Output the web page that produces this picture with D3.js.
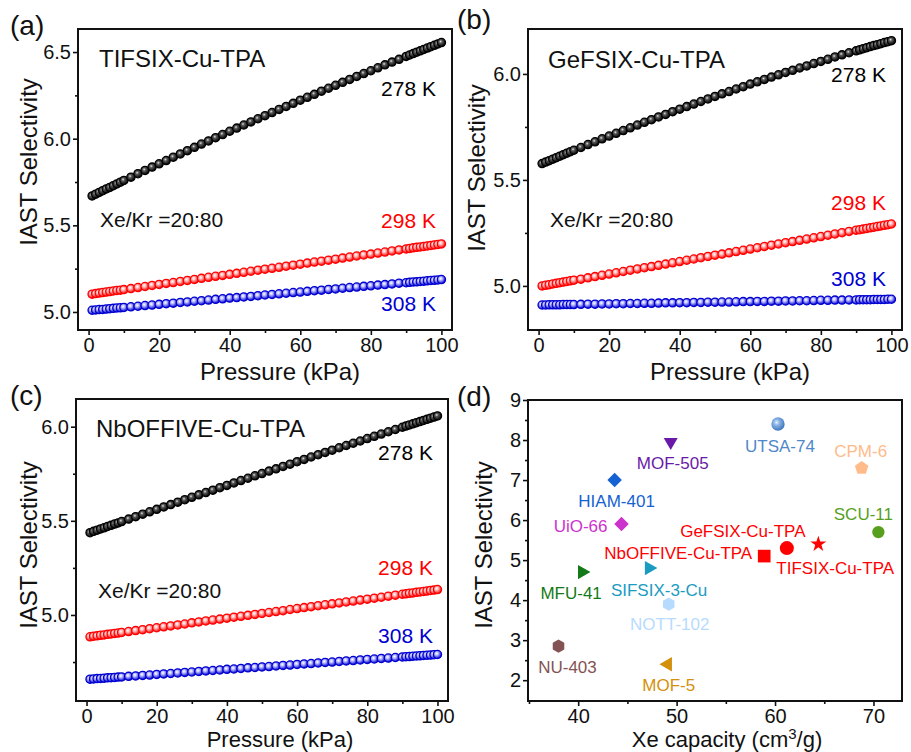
<!DOCTYPE html>
<html>
<head>
<meta charset="utf-8">
<title>IAST selectivity</title>
<style>
  body { margin: 0; background: #fff; }
  svg { display: block; font-family: Arial, 'Liberation Sans', sans-serif; }
  .tick text { font-size: 20px; fill: #111; }
  .tick line { stroke: #111; stroke-width: 1.6px; }
  .domain { display: none; }
  .frame { fill: none; stroke: #111; stroke-width: 2px; }
  .axis-title { font-size: 24px; fill: #111; }
  .axis-title.low { font-size: 22px; }
  .panel-tag { font-size: 28px; fill: #111; }
  .panel-name { font-size: 24px; fill: #111; }
  .note { font-size: 21px; fill: #111; }
  .temp { font-size: 21px; }
  .mat-label { font-size: 17px; }
</style>
</head>
<body>
<svg width="911" height="752"></svg>
<script src="https://d3js.org/d3.v7.min.js"></script>
<script>

// pressure points (kPa), same for every isotherm
let pressure = [1, 2, 3, 4, 5, 6, 7, 8, 9, 10,
  12, 14, 16, 18, 20, 22, 24, 26, 28, 30, 32, 34, 36, 38, 40, 42, 44, 46, 48, 50,
  52, 54, 56, 58, 60, 62, 64, 66, 68, 70, 72, 74, 76, 78, 80, 82, 84, 86, 88,
  90, 91, 92, 93, 94, 95, 96, 97, 98, 99, 100];

// (a) TIFSIX-Cu-TPA
let tifsix278 = [5.670, 5.680, 5.690, 5.700, 5.710, 5.719, 5.729, 5.739, 5.749, 5.759,
  5.778, 5.798, 5.817, 5.836, 5.855, 5.874, 5.893, 5.912, 5.931, 5.950, 5.969, 5.987, 6.006, 6.024, 6.043, 6.061, 6.079, 6.097, 6.115, 6.133,
  6.151, 6.169, 6.186, 6.204, 6.222, 6.239, 6.256, 6.274, 6.291, 6.308, 6.325, 6.342, 6.359, 6.376, 6.392, 6.409, 6.426, 6.442, 6.458,
  6.475, 6.483, 6.491, 6.499, 6.507, 6.515, 6.523, 6.531, 6.539, 6.547, 6.555];
let tifsix298 = [5.103, 5.106, 5.109, 5.112, 5.115, 5.118, 5.121, 5.124, 5.126, 5.129,
  5.135, 5.141, 5.147, 5.153, 5.159, 5.165, 5.170, 5.176, 5.182, 5.188, 5.194, 5.200, 5.206, 5.211, 5.217, 5.223, 5.229, 5.235, 5.241, 5.247,
  5.252, 5.258, 5.264, 5.270, 5.276, 5.282, 5.288, 5.293, 5.299, 5.305, 5.311, 5.317, 5.323, 5.329, 5.334, 5.340, 5.346, 5.352, 5.358,
  5.364, 5.367, 5.370, 5.373, 5.375, 5.378, 5.381, 5.384, 5.387, 5.390, 5.393];
let tifsix308 = [5.010, 5.012, 5.014, 5.015, 5.017, 5.019, 5.021, 5.023, 5.024, 5.026,
  5.030, 5.033, 5.037, 5.040, 5.044, 5.048, 5.051, 5.055, 5.058, 5.062, 5.065, 5.069, 5.073, 5.076, 5.080, 5.083, 5.087, 5.090, 5.094, 5.098,
  5.101, 5.105, 5.108, 5.112, 5.115, 5.119, 5.123, 5.126, 5.130, 5.133, 5.137, 5.141, 5.144, 5.148, 5.151, 5.155, 5.158, 5.162, 5.166,
  5.169, 5.171, 5.173, 5.174, 5.176, 5.178, 5.180, 5.182, 5.183, 5.185, 5.187];

// (b) GeFSIX-Cu-TPA
let gefsix278 = [5.577, 5.584, 5.591, 5.598, 5.605, 5.612, 5.619, 5.626, 5.633, 5.640,
  5.653, 5.667, 5.680, 5.694, 5.707, 5.720, 5.733, 5.746, 5.759, 5.772, 5.784, 5.797, 5.809, 5.822, 5.834, 5.846, 5.858, 5.870, 5.882, 5.894,
  5.906, 5.917, 5.929, 5.940, 5.952, 5.963, 5.974, 5.985, 5.996, 6.007, 6.017, 6.028, 6.038, 6.049, 6.059, 6.069, 6.080, 6.090, 6.100,
  6.109, 6.114, 6.119, 6.124, 6.129, 6.134, 6.138, 6.143, 6.148, 6.152, 6.157];
let gefsix298 = [5.000, 5.003, 5.006, 5.009, 5.012, 5.015, 5.018, 5.021, 5.024, 5.027,
  5.032, 5.038, 5.044, 5.050, 5.056, 5.062, 5.068, 5.074, 5.080, 5.086, 5.091, 5.097, 5.103, 5.109, 5.115, 5.121, 5.127, 5.133, 5.139, 5.145,
  5.150, 5.156, 5.162, 5.168, 5.174, 5.180, 5.186, 5.192, 5.198, 5.204, 5.209, 5.215, 5.221, 5.227, 5.233, 5.239, 5.245, 5.251, 5.257,
  5.263, 5.265, 5.268, 5.271, 5.274, 5.277, 5.280, 5.283, 5.286, 5.289, 5.292];
let gefsix308 = [4.910, 4.910, 4.911, 4.911, 4.911, 4.911, 4.912, 4.912, 4.912, 4.912,
  4.913, 4.914, 4.914, 4.915, 4.915, 4.916, 4.916, 4.917, 4.917, 4.918, 4.918, 4.919, 4.920, 4.920, 4.921, 4.921, 4.922, 4.922, 4.923, 4.923,
  4.924, 4.924, 4.925, 4.926, 4.926, 4.927, 4.927, 4.928, 4.928, 4.929, 4.929, 4.930, 4.930, 4.931, 4.932, 4.932, 4.933, 4.933, 4.934,
  4.934, 4.935, 4.935, 4.935, 4.935, 4.936, 4.936, 4.936, 4.936, 4.937, 4.937];

// (c) NbOFFIVE-Cu-TPA
let nbo278 = [5.437, 5.444, 5.450, 5.457, 5.463, 5.470, 5.476, 5.483, 5.489, 5.496,
  5.509, 5.522, 5.535, 5.548, 5.561, 5.574, 5.586, 5.599, 5.612, 5.625, 5.638, 5.650, 5.663, 5.676, 5.688, 5.701, 5.714, 5.726, 5.739, 5.751,
  5.764, 5.776, 5.789, 5.801, 5.814, 5.826, 5.839, 5.851, 5.863, 5.875, 5.888, 5.900, 5.912, 5.924, 5.937, 5.949, 5.961, 5.973, 5.985,
  5.997, 6.003, 6.009, 6.015, 6.021, 6.027, 6.033, 6.039, 6.045, 6.051, 6.057];
let nbo298 = [4.884, 4.887, 4.889, 4.892, 4.894, 4.897, 4.899, 4.902, 4.904, 4.907,
  4.912, 4.917, 4.922, 4.927, 4.932, 4.937, 4.942, 4.947, 4.952, 4.958, 4.963, 4.968, 4.973, 4.978, 4.983, 4.988, 4.993, 4.998, 5.003, 5.008,
  5.013, 5.018, 5.023, 5.029, 5.034, 5.039, 5.044, 5.049, 5.054, 5.059, 5.064, 5.069, 5.074, 5.079, 5.084, 5.089, 5.094, 5.100, 5.105,
  5.110, 5.112, 5.115, 5.117, 5.120, 5.122, 5.125, 5.127, 5.130, 5.132, 5.135];
let nbo308 = [4.659, 4.660, 4.662, 4.663, 4.664, 4.666, 4.667, 4.668, 4.670, 4.671,
  4.674, 4.676, 4.679, 4.681, 4.684, 4.687, 4.689, 4.692, 4.695, 4.697, 4.700, 4.703, 4.705, 4.708, 4.711, 4.713, 4.716, 4.719, 4.721, 4.724,
  4.726, 4.729, 4.732, 4.734, 4.737, 4.740, 4.742, 4.745, 4.748, 4.750, 4.753, 4.756, 4.758, 4.761, 4.764, 4.766, 4.769, 4.771, 4.774,
  4.777, 4.778, 4.779, 4.781, 4.782, 4.783, 4.785, 4.786, 4.787, 4.789, 4.790];

// tick values
let pressureTicks = [0, 20, 40, 60, 80, 100];
let pressureMinor = [10, 30, 50, 70, 90];
let capacityTicks = [40, 50, 60, 70];
let capacityMinor = [35, 45, 55, 65];
let selTicks = [2, 3, 4, 5, 6, 7, 8, 9];
let selMinor = [2.5, 3.5, 4.5, 5.5, 6.5, 7.5, 8.5];

// (d) comparison of materials
let materials = ['UTSA-74', 'MOF-505', 'CPM-6', 'HIAM-401', 'UiO-66', 'SCU-11', 'TIFSIX-Cu-TPA',
  'GeFSIX-Cu-TPA', 'NbOFFIVE-Cu-TPA', 'SIFSIX-3-Cu', 'MFU-41', 'NOTT-102', 'NU-403', 'MOF-5'];
let xeCapacity = [60.3, 49.4, 68.8, 43.7, 44.4, 70.5, 64.4, 61.2, 58.9, 47.2, 40.4, 49.2, 38.0, 49.1];
let xeSelectivity = [8.4, 7.95, 7.3, 7.0, 5.9, 5.7, 5.4, 5.3, 5.1, 4.8, 4.7, 3.9, 2.85, 2.4];

let svg = d3.select('svg');
svg.append('rect').attr('width', 911).attr('height', 752).attr('fill', '#fff');
let defs = svg.append('defs');

// shaded ball fills
function ball(id, hi, mid, edge, midAt) {
  let g = defs.append('radialGradient').attr('id', id)
    .attr('cx', '40%').attr('cy', '38%').attr('r', '62%');
  g.append('stop').attr('offset', '0%').attr('stop-color', hi);
  g.append('stop').attr('offset', midAt).attr('stop-color', mid);
  g.append('stop').attr('offset', '100%').attr('stop-color', edge);
}
ball('b-black', '#e6e6e6', '#5a5a5a', '#000', '30%');
ball('b-red', '#fff', '#ffc4c4', '#ff0000', '30%');
ball('b-blue', '#fff', '#c4c4ff', '#0000d0', '30%');
ball('b-utsa', '#e8f2ff', '#8ab4e6', '#3f78bd', '35%');

let seriesColor = { 278: '#000', 298: '#ff0000', 308: '#0000d0' };
let seriesFill = { 278: 'url(#b-black)', 298: 'url(#b-red)', 308: 'url(#b-blue)' };

let panels = [
  { tag: '(a)', tagX: 10, tagY: 35, name: 'TIFSIX-Cu-TPA', nameX: 99, nameY: 67,
    box: [78, 452, 29, 330], yDomain: [4.896, 6.633], yTicks: [5.0, 5.5, 6.0, 6.5], yMinor: [5.25, 5.75, 6.25],
    series: { 278: tifsix278, 298: tifsix298, 308: tifsix308 },
    noteY: 227, tempX: 436, tempY: { 278: 96, 298: 228, 308: 311 },
    xTitle: [280, 380], yTitle: [37, 162], low: false },
  { tag: '(b)', tagX: 457, tagY: 29, name: 'GeFSIX-Cu-TPA', nameX: 548, nameY: 68,
    box: [528, 902, 29, 330], yDomain: [4.792, 6.212], yTicks: [5.0, 5.5, 6.0], yMinor: [5.25, 5.75],
    series: { 278: gefsix278, 298: gefsix298, 308: gefsix308 },
    noteY: 227, tempX: 886, tempY: { 278: 82, 298: 210, 308: 286 },
    xTitle: [730, 380], yTitle: [485, 168], low: false },
  { tag: '(c)', tagX: 10, tagY: 405, name: 'NbOFFIVE-Cu-TPA', nameX: 96, nameY: 437,
    box: [76, 448, 399, 701], yDomain: [4.543, 6.147], yTicks: [5.0, 5.5, 6.0], yMinor: [4.75, 5.25, 5.75],
    series: { 278: nbo278, 298: nbo298, 308: nbo308 },
    noteY: 598, tempX: 433, tempY: { 278: 460, 298: 575, 308: 643 },
    xTitle: [280, 747], yTitle: [37, 545], low: true }
];

function frameAndAxes(box, x, y, xt, xm, yt, ym, yfmt) {
  svg.append('g').attr('transform', `translate(0,${box[3]})`)
    .call(d3.axisBottom(x).tickValues(xm).tickSize(3).tickFormat(''));
  svg.append('g').attr('transform', `translate(0,${box[3]})`)
    .call(d3.axisBottom(x).tickValues(xt).tickSize(5).tickPadding(3).tickFormat(d3.format('d')));
  svg.append('g').attr('transform', `translate(${box[0]},0)`)
    .call(d3.axisLeft(y).tickValues(ym).tickSize(3).tickFormat(''));
  svg.append('g').attr('transform', `translate(${box[0]},0)`)
    .call(d3.axisLeft(y).tickValues(yt).tickSize(5).tickPadding(2).tickFormat(d3.format(yfmt)));
  svg.append('rect').attr('class', 'frame')
    .attr('x', box[0]).attr('y', box[2])
    .attr('width', box[1] - box[0]).attr('height', box[3] - box[2]);
}

panels.forEach(p => {
  let x = d3.scaleLinear().domain([-3, 103]).range([p.box[0], p.box[1]]);
  let y = d3.scaleLinear().domain(p.yDomain).range([p.box[3], p.box[2]]);

  frameAndAxes(p.box, x, y, pressureTicks, pressureMinor, p.yTicks, p.yMinor, '.1f');

  [308, 298, 278].forEach(T => {
    svg.append('g').selectAll('circle')
      .data(p.series[T])
      .join('circle')
      .attr('cx', (d, i) => x(pressure[i]))
      .attr('cy', d => y(d))
      .attr('r', 4.1)
      .attr('fill', seriesFill[T])
      .attr('stroke', seriesColor[T])
      .attr('stroke-width', 1.3);

    svg.append('text').attr('class', 'temp')
      .attr('x', p.tempX).attr('y', p.tempY[T])
      .attr('text-anchor', 'end')
      .attr('fill', seriesColor[T])
      .text(T + ' K');
  });

  svg.append('text').attr('class', 'panel-name')
    .attr('x', p.nameX).attr('y', p.nameY).text(p.name);
  svg.append('text').attr('class', 'note')
    .attr('x', p.box[0] + 22).attr('y', p.noteY).text('Xe/Kr =20:80');
  svg.append('text').attr('class', 'panel-tag')
    .attr('x', p.tagX).attr('y', p.tagY).text(p.tag);
  svg.append('text').attr('class', p.low ? 'axis-title low' : 'axis-title')
    .attr('x', p.xTitle[0]).attr('y', p.xTitle[1])
    .attr('text-anchor', 'middle').text('Pressure (kPa)');
  svg.append('text').attr('class', 'axis-title')
    .attr('transform', `translate(${p.yTitle[0]},${p.yTitle[1]}) rotate(-90)`)
    .attr('text-anchor', 'middle').text('IAST Selectivity');
});

// ---- panel (d)
let hexagon = {
  draw(ctx, size) {
    let r = Math.sqrt(2 * size / (3 * Math.sqrt(3)));
    for (let k = 0; k < 6; k++) {
      let a = -Math.PI / 2 + k * Math.PI / 3;
      k ? ctx.lineTo(r * Math.cos(a), r * Math.sin(a)) : ctx.moveTo(r * Math.cos(a), r * Math.sin(a));
    }
    ctx.closePath();
  }
};
let pentagon = {
  draw(ctx, size) {
    let r = Math.sqrt(2 * size / (5 * Math.sin(2 * Math.PI / 5)));
    for (let k = 0; k < 5; k++) {
      let a = -Math.PI / 2 + k * 2 * Math.PI / 5;
      k ? ctx.lineTo(r * Math.cos(a), r * Math.sin(a)) : ctx.moveTo(r * Math.cos(a), r * Math.sin(a));
    }
    ctx.closePath();
  }
};

let matStyle = {
  'UTSA-74':        { color: '#4f88c8', fill: 'url(#b-utsa)', type: d3.symbolCircle, size: 140, rot: 0, dx: 2, dy: 28, anchor: 'middle' },
  'MOF-505':        { color: '#6a1aa8', type: d3.symbolTriangle, size: 85, rot: 180, dx: 2, dy: 27, anchor: 'middle' },
  'CPM-6':          { color: '#ffbb8a', type: pentagon, size: 120, rot: 0, dx: -1, dy: -11, anchor: 'middle' },
  'HIAM-401':       { color: '#1462d2', type: d3.symbolSquare, size: 105, rot: 45, dx: 2, dy: 27, anchor: 'middle' },
  'UiO-66':         { color: '#cc33cc', type: d3.symbolSquare, size: 105, rot: 45, dx: -14, dy: 8, anchor: 'end' },
  'SCU-11':         { color: '#56a01e', type: d3.symbolCircle, size: 120, rot: 0, dx: -15, dy: -12, anchor: 'middle' },
  'TIFSIX-Cu-TPA':  { color: '#ff0000', type: d3.symbolStar, size: 80, rot: 0, dx: -42, dy: 30, anchor: 'start' },
  'GeFSIX-Cu-TPA':  { color: '#ff0000', type: d3.symbolCircle, size: 155, rot: 0, dx: -44, dy: -11, anchor: 'middle' },
  'NbOFFIVE-Cu-TPA':{ color: '#ff0000', type: d3.symbolSquare, size: 160, rot: 0, dx: -12, dy: 3, anchor: 'end' },
  'SIFSIX-3-Cu':    { color: '#1a9cc2', type: d3.symbolTriangle, size: 90, rot: 90, dx: 10, dy: 28, anchor: 'middle' },
  'MFU-41':         { color: '#137a17', type: d3.symbolTriangle, size: 90, rot: 90, dx: -11, dy: 27, anchor: 'middle' },
  'NOTT-102':       { color: '#b7dbff', type: hexagon, size: 115, rot: 0, dx: 1, dy: 26, anchor: 'middle' },
  'NU-403':         { color: '#845252', type: hexagon, size: 115, rot: 0, dx: 9, dy: 27, anchor: 'middle' },
  'MOF-5':          { color: '#d4900c', type: d3.symbolTriangle, size: 90, rot: -90, dx: 1, dy: 27, anchor: 'middle' }
};

let dBox = [528, 902, 400, 701];
let xd = d3.scaleLinear().domain([34.9, 72.9]).range([dBox[0], dBox[1]]);
let yd = d3.scaleLinear().domain([1.48, 9]).range([dBox[3], dBox[2]]);

frameAndAxes(dBox, xd, yd, capacityTicks, capacityMinor, selTicks, selMinor, 'd');

let pts = materials.map((m, i) => ({ name: m, x: xeCapacity[i], y: xeSelectivity[i], s: matStyle[m] }));

svg.append('g').selectAll('path')
  .data(pts)
  .join('path')
  .attr('d', d => d3.symbol().type(d.s.type).size(d.s.size)())
  .attr('transform', d => `translate(${xd(d.x)},${yd(d.y)}) rotate(${d.s.rot})`)
  .attr('fill', d => d.s.fill || d.s.color);

svg.append('g').selectAll('text')
  .data(pts)
  .join('text')
  .attr('class', 'mat-label')
  .attr('x', d => xd(d.x) + d.s.dx)
  .attr('y', d => yd(d.y) + d.s.dy)
  .attr('text-anchor', d => d.s.anchor)
  .attr('fill', d => d.s.color)
  .text(d => d.name);

svg.append('text').attr('class', 'panel-tag').attr('x', 457).attr('y', 406).text('(d)');

let xt = svg.append('text').attr('class', 'axis-title low')
  .attr('x', 727).attr('y', 747).attr('text-anchor', 'middle');
xt.append('tspan').text('Xe capacity (cm');
xt.append('tspan').attr('font-size', 15).attr('dy', -8).text('3');
xt.append('tspan').attr('dy', 8).text('/g)');

svg.append('text').attr('class', 'axis-title')
  .attr('transform', 'translate(492,545) rotate(-90)')
  .attr('text-anchor', 'middle').text('IAST Selectivity');

</script>
</body>
</html>
